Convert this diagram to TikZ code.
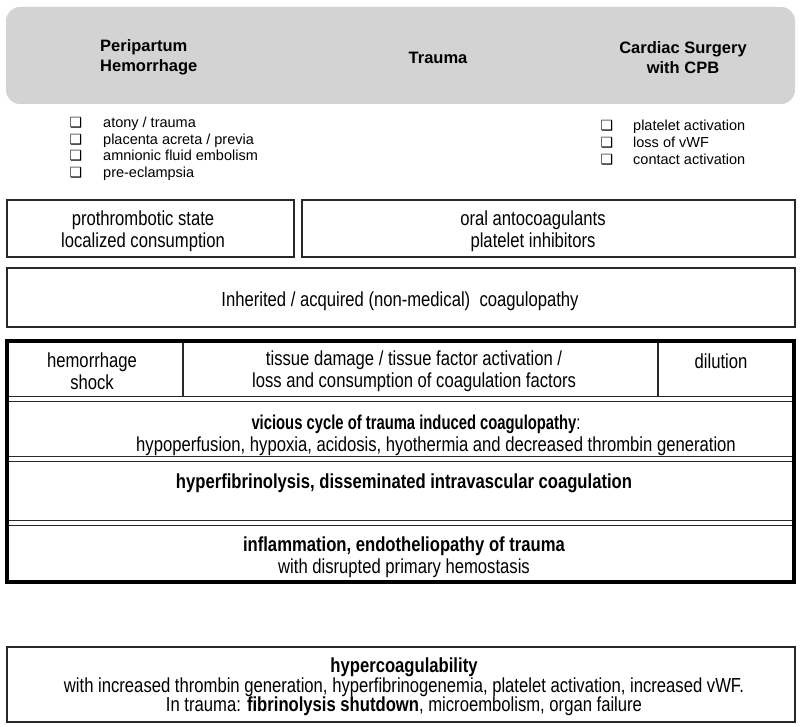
\documentclass[tikz,border=0pt]{standalone}
\usepackage{fontspec}
\setmainfont{Liberation Sans}
\newfontfamily\narrowfont[FakeStretch=0.82]{Liberation Sans}
\newfontfamily\condfont[FakeStretch=0.74]{Liberation Sans}
\newfontfamily\symfont{DejaVu Sans}
\definecolor{hdrgray}{RGB}{211,211,211}
\definecolor{linegray}{RGB}{40,40,40}
\tikzset{
  box/.style={draw=linegray, line width=1.6pt},
  nt/.style={font=\narrowfont\fontsize{20.3}{22}\selectfont, align=center, inner sep=0pt},
  ntb/.style={font=\narrowfont\fontsize{20.3}{19.5}\selectfont, align=center, inner sep=0pt},
  hd/.style={font=\bfseries\fontsize{16.5}{20}\selectfont, align=center, inner sep=0pt},
  li/.style={font=\fontsize{14.5}{17}\selectfont, anchor=base west, inner sep=0pt},
  ck/.style={font=\symfont\fontsize{14}{14}\selectfont, anchor=base, inner sep=0pt},
  dbl/.style={line width=1.3pt, draw=linegray},
  thick frame/.style={line width=4.5pt, draw=black},
  divider/.style={line width=1.8pt, draw=linegray}
}
\begin{document}
\begin{tikzpicture}[x=1pt,y=-1pt]
\useasboundingbox (0,0) rectangle (800,727);
\fill[white] (0,0) rectangle (800,727);
% header band
\fill[hdrgray, rounded corners=14pt] (6,7) rectangle (795,104);
\node[hd, align=left, anchor=west] (h1) at (100,57.5) {Peripartum\\Hemorrhage};
\node[hd] (h2) at (438,58) {Trauma};
\node[hd] (h3) at (683,57.5) {Cardiac Surgery\\with CPB};
% left list
\node[ck] (c1) at (76,128) {❑}; \node[li] (l1) at (103,128) {atony / trauma};
\node[ck] (c2) at (76,144.5) {❑}; \node[li] (l2) at (103,144.5) {placenta acreta / previa};
\node[ck] (c3) at (76,161) {❑}; \node[li] (l3) at (103,161) {amnionic fluid embolism};
\node[ck] (c4) at (76,177.5) {❑}; \node[li] (l4) at (103,177.5) {pre-eclampsia};
% right list
\node[ck] (c5) at (607,131) {❑}; \node[li] (l5) at (633,131) {platelet activation};
\node[ck] (c6) at (607,148) {❑}; \node[li] (l6) at (633,148) {loss of vWF};
\node[ck] (c7) at (607,165) {❑}; \node[li] (l7) at (633,165) {contact activation};
% row of two boxes
\draw[box] (7,200) rectangle (294,257);
\node[nt] (p1) at (143,231) {prothrombotic state\\localized consumption};
\draw[box] (302,200) rectangle (795,257);
\node[nt] (p2) at (533,231) {oral antocoagulants\\platelet inhibitors};
% inherited box
\draw[box] (7,268) rectangle (795,327);
\node[nt] (p3) at (400,301) {Inherited / acquired (non-medical)\ \ coagulopathy};
% thick framed block
\draw[divider] (183,341) -- (183,397);
\draw[divider] (658,341) -- (658,397);
\foreach \yy in {399,459,523}{
  \draw[dbl] (6,\yy-2.2) -- (795,\yy-2.2);
  \draw[dbl] (6,\yy+2.2) -- (795,\yy+2.2);
}
\draw[thick frame] (7,341) rectangle (794,582);
\node[nt] (t1) at (92,371) {hemorrhage\\shock};
\node[nt] (t2) at (414,371) {tissue damage / tissue factor activation /\\loss and consumption of coagulation factors};
\node[nt] (t3) at (721,361) {dilution};
\node[nt] (t4) at (436,435) {{\condfont\fontsize{20}{22}\selectfont\textbf{vicious cycle of trauma induced coagulopathy}:}\hspace*{40pt}\\hypoperfusion, hypoxia, acidosis, hyothermia and decreased thrombin generation};
\node[nt] (t5) at (404,483) {\textbf{hyperfibrinolysis, disseminated intravascular coagulation}};
\node[nt] (t6) at (404,557) {\textbf{inflammation, endotheliopathy of trauma}\\with disrupted primary hemostasis};
% bottom box
\draw[box] (7,647) rectangle (795,722);
\node[ntb] (t7) at (404,687) {\textbf{hypercoagulability}\\with increased thrombin generation, hyperfibrinogenemia, platelet activation, increased vWF.\\In trauma: \textbf{fibrinolysis shutdown}, microembolism, organ failure};
\end{tikzpicture}
\end{document}
